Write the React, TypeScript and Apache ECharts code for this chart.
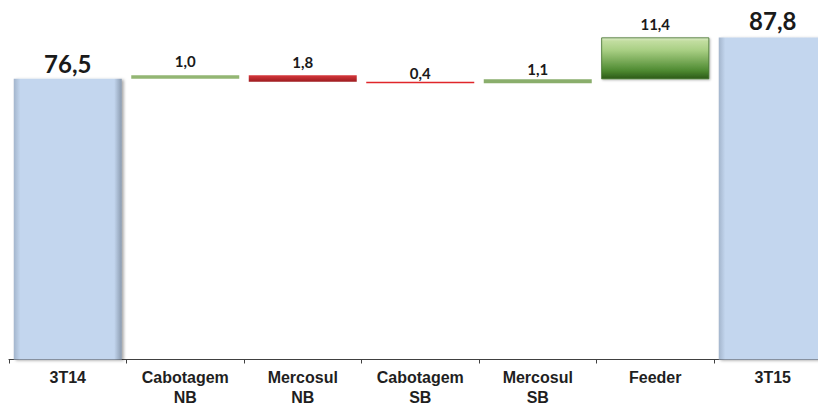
import React, { useEffect, useRef } from "react";
import * as echarts from "echarts";

const categories = ["3T14", "Cabotagem\nNB", "Mercosul\nNB", "Cabotagem\nSB", "Mercosul\nSB", "Feeder", "3T15"];
const isTotal = [true, false, false, false, false, false, true];
const values = [76.5, 1.0, -1.8, -0.4, 1.1, 11.4, 87.8];

const blueFill = new echarts.graphic.LinearGradient(0, 0, 1, 0, [
  { offset: 0, color: "#a3b5cc" },
  { offset: 0.06, color: "#c3d6ee" },
  { offset: 0.93, color: "#c3d6ee" },
  { offset: 1, color: "#8a9aae" },
]);
const feederFill = new echarts.graphic.LinearGradient(0, 0, 0, 1, [
  { offset: 0, color: "#dcecc8" },
  { offset: 0.08, color: "#c2dda0" },
  { offset: 0.3, color: "#a9cf84" },
  { offset: 0.8, color: "#4e8a31" },
  { offset: 1, color: "#2c5a17" },
]);
const redFill = new echarts.graphic.LinearGradient(0, 0, 0, 1, [
  { offset: 0, color: "#d8383c" },
  { offset: 1, color: "#9c1b1f" },
]);

const barStyles = [
  { color: blueFill, shadowColor: "rgba(0,0,0,0.35)", shadowBlur: 3, shadowOffsetX: 2, shadowOffsetY: 1 },
  { color: "#93b673" },
  { color: redFill },
  { color: "#e0262a" },
  { color: "#8aae6c" },
  { color: feederFill, borderColor: "#3f6e28", borderWidth: 0.8, shadowColor: "rgba(0,0,0,0.3)", shadowBlur: 2, shadowOffsetX: 1, shadowOffsetY: 1 },
  { color: blueFill, shadowColor: "rgba(0,0,0,0.35)", shadowBlur: 3, shadowOffsetX: 2, shadowOffsetY: 1 },
];
const labelDistances = [3, 6.5, 5.5, 1.5, 2.5, 5.5, 5];

export default function App() {
  const ref = useRef<HTMLDivElement>(null);
  useEffect(() => {
    if (!ref.current) return;
    const chart = echarts.init(ref.current, undefined, { renderer: "svg" });

    const bases: number[] = [];
    const heights: number[] = [];
    let running = 0;
    values.forEach((v, i) => {
      if (isTotal[i]) {
        bases.push(0);
        heights.push(v);
        running = v;
      } else {
        const next = running + v;
        bases.push(Math.min(running, next));
        heights.push(Math.abs(v));
        running = next;
      }
    });

    chart.setOption({
      animation: false,
      grid: { left: 9, width: 822.5, top: 0, bottom: 45.5, containLabel: false, outerBoundsMode: "none" },
      xAxis: {
        type: "category",
        data: categories,
        boundaryGap: true,
        axisLine: { lineStyle: { color: "#404040", width: 1.2 } },
        axisTick: { show: true, length: 4, lineStyle: { color: "#404040" } },
        axisLabel: {
          interval: 0,
          margin: 8,
          fontFamily: "Liberation Sans, Arial, sans-serif",
          fontWeight: "bold",
          fontSize: 16,
          lineHeight: 20,
          color: "#1f1f1f",
          verticalAlign: "top",
        },
      },
      yAxis: { type: "value", min: 0, max: 98, show: false, splitLine: { show: false } },
      series: [
        {
          type: "bar",
          stack: "w",
          data: bases,
          barWidth: 108,
          itemStyle: { color: "transparent" },
          silent: true,
        },
        {
          type: "bar",
          stack: "w",
          barWidth: 108,
          data: heights.map((h, i) => ({
            value: h,
            itemStyle: barStyles[i],
            label: {
              show: true,
              position: "top",
              distance: labelDistances[i],
              fontFamily: "Lato, Open Sans, sans-serif",
              fontWeight: "bold",
              fontSize: isTotal[i] ? 24 : 15,
              color: "#1a1a1a",
              formatter: () => Math.abs(values[i]).toFixed(1).replace(".", ","),
            },
          })),
        },
      ],
    });
    return () => chart.dispose();
  }, []);
  return (
    <div
      ref={ref}
      style={{ position: "absolute", left: 0, top: 0, width: 818, height: 405, background: "#fff" }}
    />
  );
}
